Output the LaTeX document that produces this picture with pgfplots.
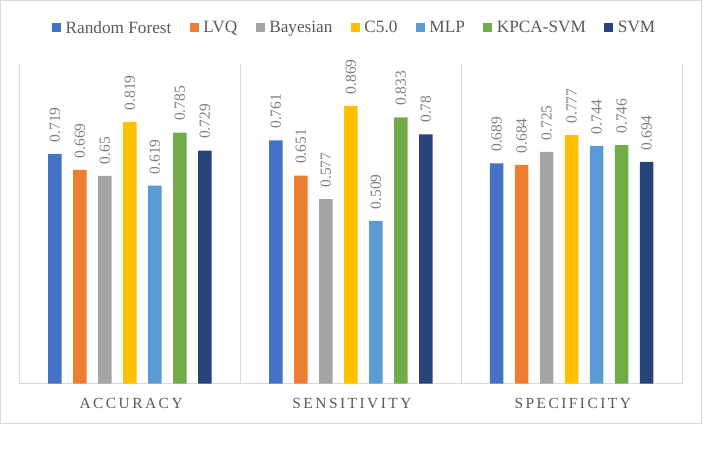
\documentclass[border=0pt]{standalone}
\usepackage{fontspec}
\setmainfont{Liberation Serif}
\newfontfamily\spaced[LetterSpace=16]{Liberation Serif}
\usepackage{pgfplots}
\pgfplotsset{compat=1.18}
\definecolor{cRF}{HTML}{4472C4}
\definecolor{cLVQ}{HTML}{ED7D31}
\definecolor{cBay}{HTML}{A5A5A5}
\definecolor{cC5}{HTML}{FFC000}
\definecolor{cMLP}{HTML}{5B9BD5}
\definecolor{cKPCA}{HTML}{70AD47}
\definecolor{cSVM}{HTML}{264478}
\definecolor{gridgray}{HTML}{D9D9D9}
\definecolor{txtgray}{HTML}{595959}
\definecolor{lblgray}{HTML}{7F7F7F}

\begin{document}
\begin{tikzpicture}
  \begin{axis}[
    at={(0,0)}, anchor=south west,
    scale only axis,
    width=662.5bp, height=319.5bp,
    ymin=0, ymax=1,
    xmin=-0.5, xmax=2.5,
    axis x line*=bottom,
    axis y line=none,
    axis line style={gridgray, line width=1pt},
    xtick={0,1,2},
    xticklabels={ACCURACY,SENSITIVITY,SPECIFICITY},
    major tick length=0pt,
    minor xtick={-0.5,0.5,1.5,2.5},
    minor tick length=0pt,
    xminorgrids,
    minor x grid style={gridgray, line width=0.8pt},
    xticklabel style={font=\fontsize{15.5}{18}\spaced, text=txtgray, yshift=-11bp, xshift=1.2bp},
    ybar=11.5bp,
    bar width=13.5bp,
    /pgf/number format/assume math mode=true,
    nodes near coords={\pgfmathprintnumber[fixed,precision=3]{\pgfplotspointmeta}},
    every node near coord/.append style={rotate=90, anchor=west, font=\fontsize{15.5}{18}\selectfont, text=lblgray, inner sep=0pt, xshift=11.5bp},
    legend columns=7,
    legend style={draw=none, at={(0.506,1.113)}, anchor=center,
      font=\fontsize{17.3}{20}\selectfont, text=txtgray,
      /tikz/every odd column/.append style={column sep=2.5bp},
      /tikz/every even column/.append style={column sep=16.5bp}},
    legend image code/.code={\fill[#1] (0bp,-4.5bp) rectangle (9bp,4.5bp);},
    legend cell align=left,
  ]
    \addplot[fill=cRF, draw=none] coordinates {(0,0.719) (1,0.761) (2,0.689)};
    \addplot[fill=cLVQ, draw=none] coordinates {(0,0.669) (1,0.651) (2,0.684)};
    \addplot[fill=cBay, draw=none] coordinates {(0,0.65) (1,0.577) (2,0.725)};
    \addplot[fill=cC5, draw=none] coordinates {(0,0.819) (1,0.869) (2,0.777)};
    \addplot[fill=cMLP, draw=none] coordinates {(0,0.619) (1,0.509) (2,0.744)};
    \addplot[fill=cKPCA, draw=none] coordinates {(0,0.785) (1,0.833) (2,0.746)};
    \addplot[fill=cSVM, draw=none] coordinates {(0,0.729) (1,0.78) (2,0.694)};
    \legend{Random Forest,LVQ,Bayesian,C5.0,MLP,KPCA-SVM,SVM}
  \end{axis}
  \draw[gridgray, line width=0.8pt] (-19bp,-39.5bp) rectangle (681.5bp,383bp);
  \pgfresetboundingbox
  \useasboundingbox (-19.5bp,-65.5bp) rectangle (685.5bp,383.5bp);
\end{tikzpicture}
\end{document}
